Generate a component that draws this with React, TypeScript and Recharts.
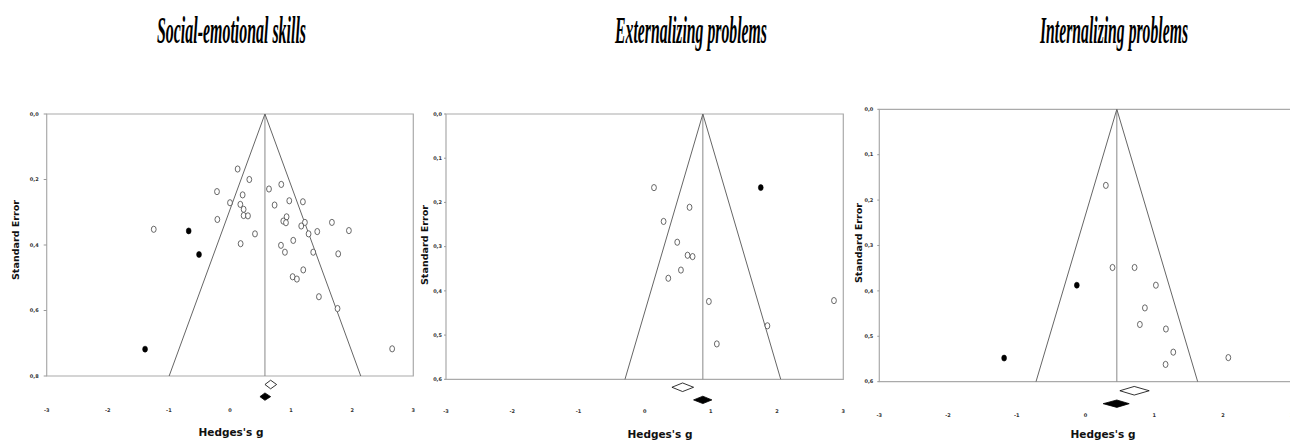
import React from "react";
import { ScatterChart, Scatter, XAxis, YAxis, ReferenceLine, ReferenceArea } from "recharts";

// Social-emotional skills: observed studies (open) and imputed studies (filled)
const socialOpen = [
  { g: 0.125, se: 0.168 }, { g: 0.316, se: 0.2 }, { g: -0.213, se: 0.237 }, { g: 0.207, se: 0.247 },
  { g: 0.0, se: 0.271 }, { g: 0.169, se: 0.276 }, { g: 0.223, se: 0.291 }, { g: 0.223, se: 0.31 },
  { g: 0.294, se: 0.311 }, { g: -0.207, se: 0.322 }, { g: 0.409, se: 0.366 }, { g: 0.174, se: 0.396 },
  { g: -1.248, se: 0.352 }, { g: 0.638, se: 0.229 }, { g: 0.839, se: 0.215 }, { g: 0.73, se: 0.278 },
  { g: 0.97, se: 0.265 }, { g: 1.193, se: 0.268 }, { g: 0.926, se: 0.314 }, { g: 0.872, se: 0.327 },
  { g: 0.916, se: 0.332 }, { g: 1.226, se: 0.331 }, { g: 1.166, se: 0.342 }, { g: 1.286, se: 0.366 },
  { g: 1.428, se: 0.359 }, { g: 1.668, se: 0.331 }, { g: 1.946, se: 0.356 }, { g: 0.834, se: 0.401 },
  { g: 1.035, se: 0.386 }, { g: 0.899, se: 0.422 }, { g: 1.362, se: 0.422 }, { g: 1.771, se: 0.427 },
  { g: 1.025, se: 0.497 }, { g: 1.095, se: 0.504 }, { g: 1.199, se: 0.476 }, { g: 1.455, se: 0.558 },
  { g: 1.76, se: 0.594 }, { g: 2.654, se: 0.717 },
];
const socialFilled = [
  { g: -0.676, se: 0.357 }, { g: -0.507, se: 0.429 }, { g: -1.39, se: 0.718 },
];
const socialObserved = { est: 0.665, lo: 0.572, hi: 0.763 };
const socialAdjusted = { est: 0.572, lo: 0.49, hi: 0.665 };

// Externalizing problems
const extOpen = [
  { g: 0.141, se: 0.1665 }, { g: 0.678, se: 0.211 }, { g: 0.286, se: 0.243 }, { g: 0.492, se: 0.29 },
  { g: 0.648, se: 0.3195 }, { g: 0.724, se: 0.3225 }, { g: 0.548, se: 0.353 }, { g: 0.357, se: 0.3715 },
  { g: 0.97, se: 0.424 }, { g: 2.859, se: 0.422 }, { g: 1.854, se: 0.479 }, { g: 1.09, se: 0.52 },
];
const extFilled = [{ g: 1.754, se: 0.1665 }];
const extObserved = { est: 0.573, lo: 0.412, hi: 0.739 };
const extAdjusted = { est: 0.879, lo: 0.739, hi: 1.015 };

// Internalizing problems
const intOpen = [
  { g: 0.296, se: 0.1676 }, { g: 0.393, se: 0.3485 }, { g: 0.714, se: 0.3485 }, { g: 1.024, se: 0.3875 },
  { g: 0.864, se: 0.4375 }, { g: 0.791, se: 0.474 }, { g: 1.17, se: 0.484 }, { g: 1.277, se: 0.535 },
  { g: 1.165, se: 0.562 }, { g: 2.078, se: 0.547 },
];
const intFilled = [{ g: -0.126, se: 0.3875 }, { g: -1.184, se: 0.548 }];
const intObserved = { est: 0.709, lo: 0.5, hi: 0.927 };
const intAdjusted = { est: 0.456, lo: 0.257, hi: 0.636 };

const xTicks = [-3, -2, -1, 0, 1, 2, 3];
const seTicks02 = [0, 0.2, 0.4, 0.6, 0.8];
const seTicks01 = [0, 0.1, 0.2, 0.3, 0.4, 0.5, 0.6];

const titles = ["Social-emotional skills", "Externalizing problems", "Internalizing problems"];

type Pt = { g: number; se: number };
type Est = { est: number; lo: number; hi: number };

const openDot = (p: any) => (
  <ellipse cx={p.cx} cy={p.cy} rx={2.4} ry={3.1} fill="#fff" stroke="#444" strokeWidth={0.8} />
);
const filledDot = (p: any) => (
  <ellipse cx={p.cx} cy={p.cy} rx={2.4} ry={3} fill="#000" stroke="#000" strokeWidth={0.6} />
);
const noDot = () => <g />;

// pooled estimate drawn as a diamond from lo / est / hi points
const diamond = (half: number, fill: string) => (p: any) => {
  const pts = p.points || [];
  if (pts.length < 3) return <g />;
  const [a, m, b] = pts;
  const d = `M${a.x},${a.y} L${m.x},${m.y - half} L${b.x},${b.y} L${m.x},${m.y + half} Z`;
  return <path d={d} fill={fill} stroke="#000" strokeWidth={0.8} />;
};

interface PanelProps {
  left: number;
  width: number;
  margin: { top: number; right: number; bottom: number; left: number };
  yWidth: number;
  yMax: number;
  maxSE: number;
  seTicks: number[];
  yTickSize: number;
  yTickMargin: number;
  xTickSize: number;
  open: Pt[];
  filled: Pt[];
  observed: Est;
  adjusted: Est;
  rows: [number, number];
}

const Panel: React.FC<PanelProps> = (p) => {
  const c = p.adjusted.est;
  const w = 1.96 * p.maxSE;
  const obs = [
    { g: p.observed.lo, se: p.rows[0] },
    { g: p.observed.est, se: p.rows[0] },
    { g: p.observed.hi, se: p.rows[0] },
  ];
  const adj = [
    { g: p.adjusted.lo, se: p.rows[1] },
    { g: p.adjusted.est, se: p.rows[1] },
    { g: p.adjusted.hi, se: p.rows[1] },
  ];
  const tickStyle = { fontSize: 5, fontFamily: "DejaVu Sans", fontWeight: 700, fill: "#333" };
  return (
    <div style={{ position: "absolute", left: p.left, top: 0 }}>
      <ScatterChart width={p.width} height={443} margin={p.margin}>
        <XAxis
          type="number"
          dataKey="g"
          domain={[-3, 3]}
          ticks={xTicks}
          axisLine={false}
          tickLine={false}
          tickSize={p.xTickSize}
          tickMargin={2}
          height={14}
          tick={tickStyle}
          interval={0}
        />
        <YAxis
          type="number"
          dataKey="se"
          domain={[0, p.yMax]}
          reversed
          ticks={p.seTicks}
          axisLine={false}
          tickSize={p.yTickSize}
          tickMargin={p.yTickMargin}
          tickLine={{ stroke: "#999" }}
          width={p.yWidth}
          tick={tickStyle}
          interval={0}
          tickFormatter={(v: number) => v.toFixed(1).replace(".", ",")}
        />
        <ReferenceArea x1={-3} x2={3} y1={0} y2={p.maxSE} fill="none" stroke="#aaa" strokeWidth={1.2} />
        <ReferenceLine segment={[{ x: c, y: 0 }, { x: c, y: p.maxSE }]} stroke="#888" />
        <ReferenceLine segment={[{ x: c, y: 0 }, { x: c - w, y: p.maxSE }]} stroke="#666" />
        <ReferenceLine segment={[{ x: c, y: 0 }, { x: c + w, y: p.maxSE }]} stroke="#666" />
        <Scatter data={p.open} shape={openDot} isAnimationActive={false} />
        <Scatter data={p.filled} shape={filledDot} isAnimationActive={false} />
        <Scatter data={obs} shape={noDot} line={diamond(4.3, "#fff")} lineType="joint" isAnimationActive={false} />
        <Scatter data={adj} shape={noDot} line={diamond(3.7, "#000")} lineType="joint" isAnimationActive={false} />
      </ScatterChart>
    </div>
  );
};

const titleStyle = { fontFamily: "Liberation Serif", fontStyle: "italic", fontWeight: 700, fontSize: 38 } as const;
const axisTitle = { fontFamily: "DejaVu Sans", fontWeight: 700, fill: "#111" } as const;

export default function App() {
  const titleX = [[157, 149], [615, 152], [1040, 148]];
  const seLabel = [[15.5, 240], [425, 245], [859, 243]];
  const gLabel = [[231, 436], [660, 438], [1103, 438]];
  return (
    <div style={{ position: "absolute", left: 0, top: 0, width: 1290, height: 443, overflow: "hidden", background: "#fff" }}>
      <Panel
        left={0} width={430}
        margin={{ top: 114, right: 16.7, bottom: 26.8, left: 16.7 }}
        yWidth={30} yMax={0.88} maxSE={0.8} seTicks={seTicks02}
        yTickSize={3} yTickMargin={5} xTickSize={4}
        open={socialOpen} filled={socialFilled}
        observed={socialObserved} adjusted={socialAdjusted} rows={[0.826, 0.863]}
      />
      <Panel
        left={430} width={430}
        margin={{ top: 114, right: 16.7, bottom: 24.5, left: 4 }}
        yWidth={12} yMax={0.657} maxSE={0.6} seTicks={seTicks01}
        yTickSize={2} yTickMargin={2} xTickSize={3}
        open={extOpen} filled={extFilled}
        observed={extObserved} adjusted={extAdjusted} rows={[0.618, 0.6466]}
      />
      <Panel
        left={860} width={440}
        margin={{ top: 109.3, right: 8.3, bottom: 21, left: 5.3 }}
        yWidth={14} yMax={0.658} maxSE={0.6} seTicks={seTicks01}
        yTickSize={2} yTickMargin={4} xTickSize={3}
        open={intOpen} filled={intFilled}
        observed={intObserved} adjusted={intAdjusted} rows={[0.62, 0.6485]}
      />
      <svg width={1290} height={443} style={{ position: "absolute", left: 0, top: 0, pointerEvents: "none" }}>
        {titles.map((t, i) => (
          <text key={t} x={titleX[i][0]} y={43} textLength={titleX[i][1]} lengthAdjust="spacingAndGlyphs" {...titleStyle}>
            {t}
          </text>
        ))}
        {seLabel.map(([x, y], i) => (
          <text key={"se" + i} x={x} y={y} textAnchor="middle" dominantBaseline="central" fontSize={8.5}
            textLength={80} lengthAdjust="spacingAndGlyphs" transform={`rotate(-90 ${x} ${y})`} {...axisTitle}>
            Standard Error
          </text>
        ))}
        {gLabel.map(([x, y], i) => (
          <text key={"g" + i} x={x} y={y} textAnchor="middle" fontSize={11} textLength={65}
            lengthAdjust="spacingAndGlyphs" {...axisTitle}>
            Hedges's g
          </text>
        ))}
      </svg>
    </div>
  );
}
